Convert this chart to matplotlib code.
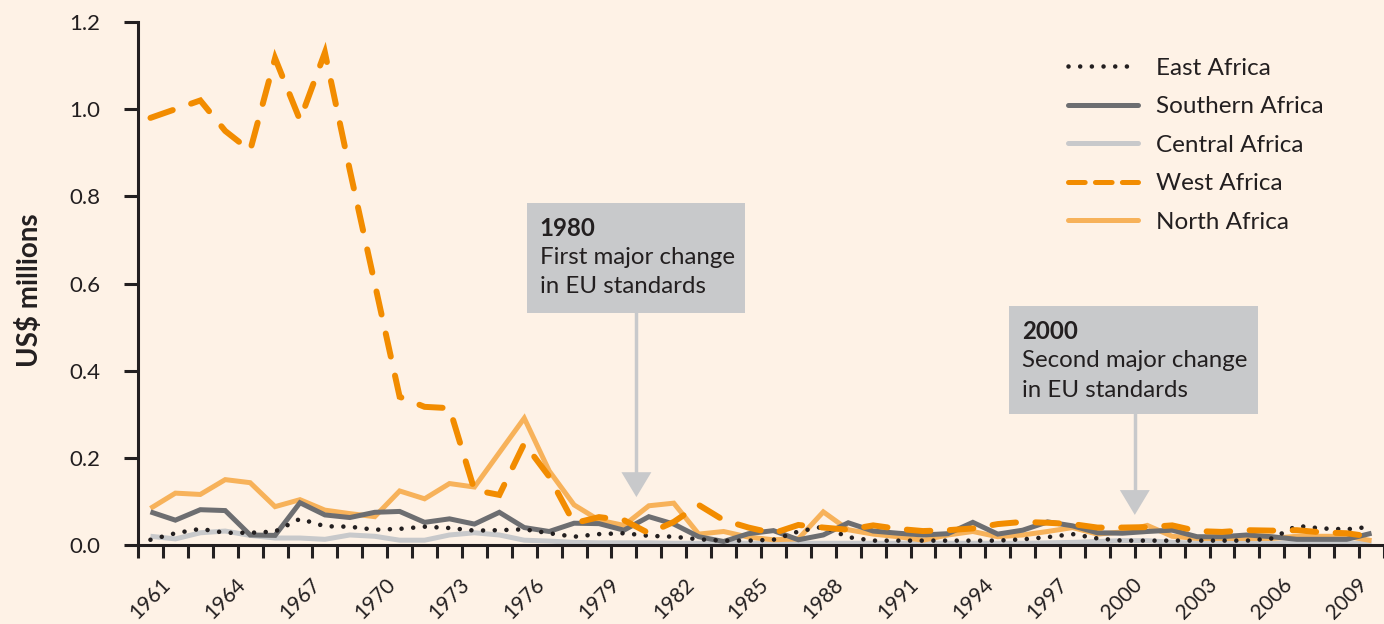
import matplotlib
matplotlib.use('Agg')
import matplotlib.pyplot as plt
from matplotlib.lines import Line2D
from matplotlib.patches import Rectangle, Polygon

plt.rcParams['font.family'] = ['Lato', 'DejaVu Sans']
plt.rcParams['lines.scale_dashes'] = False

# --- data (US$ millions) ---
years = list(range(1961, 2011))
label_years = list(range(1961, 2010, 3))

east = [0.012, 0.027, 0.037, 0.028, 0.028, 0.031, 0.060, 0.043, 0.042, 0.035,
        0.037, 0.042, 0.039, 0.033, 0.034, 0.036, 0.027, 0.019, 0.025, 0.027,
        0.021, 0.019, 0.013, 0.010, 0.010, 0.012, 0.031, 0.042, 0.018, 0.010,
        0.010, 0.010, 0.010, 0.010, 0.010, 0.013, 0.018, 0.025, 0.015, 0.010,
        0.010, 0.010, 0.010, 0.010, 0.010, 0.015, 0.044, 0.038, 0.036, 0.042]

southern = [0.076, 0.057, 0.081, 0.079, 0.023, 0.022, 0.097, 0.069, 0.063, 0.075,
            0.077, 0.052, 0.060, 0.048, 0.075, 0.040, 0.031, 0.050, 0.049, 0.034,
            0.065, 0.048, 0.019, 0.008, 0.026, 0.033, 0.012, 0.023, 0.051, 0.032,
            0.027, 0.023, 0.026, 0.052, 0.025, 0.034, 0.053, 0.044, 0.028, 0.027,
            0.031, 0.034, 0.019, 0.019, 0.023, 0.019, 0.013, 0.013, 0.013, 0.027]

central = [0.020, 0.014, 0.028, 0.032, 0.022, 0.016, 0.016, 0.013, 0.023, 0.020,
           0.011, 0.011, 0.023, 0.028, 0.023, 0.011, 0.009, 0.006, 0.005, 0.005,
           0.005, 0.004, 0.004, 0.004, 0.004, 0.004, 0.004, 0.004, 0.004, 0.004,
           0.004, 0.004, 0.004, 0.004, 0.004, 0.004, 0.005, 0.006, 0.008, 0.010,
           0.010, 0.006, 0.004, 0.004, 0.004, 0.004, 0.004, 0.004, 0.004, 0.004]

west = [0.980, 1.000, 1.020, 0.950, 0.905, 1.117, 0.975, 1.130, 0.860, 0.600,
        0.340, 0.317, 0.314, 0.126, 0.115, 0.233, 0.157, 0.050, 0.064, 0.057,
        0.027, 0.053, 0.092, 0.057, 0.040, 0.027, 0.046, 0.040, 0.035, 0.045,
        0.037, 0.032, 0.034, 0.038, 0.048, 0.053, 0.051, 0.048, 0.040, 0.040,
        0.041, 0.045, 0.032, 0.030, 0.034, 0.033, 0.034, 0.029, 0.027, 0.019]

north = [0.084, 0.119, 0.116, 0.150, 0.143, 0.088, 0.104, 0.080, 0.072, 0.065,
         0.124, 0.106, 0.141, 0.133, 0.212, 0.291, 0.170, 0.092, 0.057, 0.045,
         0.090, 0.096, 0.025, 0.031, 0.018, 0.012, 0.014, 0.076, 0.035, 0.025,
         0.019, 0.011, 0.023, 0.031, 0.019, 0.023, 0.031, 0.040, 0.025, 0.030,
         0.045, 0.020, 0.015, 0.015, 0.015, 0.015, 0.020, 0.020, 0.020, 0.010]

notes = [
    (1980.5, ['1980', 'First major change', 'in EU standards']),
    (2000.5, ['2000', 'Second major change', 'in EU standards']),
]

# --- colours ---
BG = '#FEF2E6'
INK = '#231F20'
C_EAST = INK
C_SOUTH = '#6D6E71'
C_CENTRAL = '#C8C9CB'
C_WEST = '#F28C00'
C_NORTH = '#F7B25A'
BOX = '#C8C9CB'

fig = plt.figure(figsize=(13.84, 6.24), dpi=100, facecolor=BG)
ax = fig.add_axes([138 / 1384, 79 / 624, 1246 / 1384, 523 / 624], facecolor=BG)

solid = dict(solid_joinstyle='miter', solid_capstyle='butt')
ax.plot(years, central, color=C_CENTRAL, lw=3.6, zorder=2, **solid)
ax.plot(years, north, color=C_NORTH, lw=3.6, zorder=3, **solid)
ax.plot(years, southern, color=C_SOUTH, lw=3.6, zorder=4, **solid)
ax.plot(years, east, color=C_EAST, lw=3.3, linestyle=(0, (0.01, 8.4)),
        dash_capstyle='round', zorder=5)
ax.plot(years, west, color=C_WEST, lw=4.3, linestyle=(0, (17, 14)),
        dash_capstyle='round', dash_joinstyle='miter', zorder=6)

# axes
ax.set_xlim(1960.5, 2010.34)
ax.set_ylim(0, 1.2)
for s in ['top', 'right']:
    ax.spines[s].set_visible(False)
for s in ['left', 'bottom']:
    ax.spines[s].set_linewidth(2.2)
    ax.spines[s].set_color(INK)

ax.set_yticks([0, 0.2, 0.4, 0.6, 0.8, 1.0, 1.2])
ax.set_yticklabels(['0.0', '0.2', '0.4', '0.6', '0.8', '1.0', '1.2'])
ax.tick_params(axis='y', length=10, width=2.2, color=INK, pad=17,
               labelsize=16, labelcolor=INK)

ax.set_xticks(label_years)
ax.set_xticklabels([str(y) for y in label_years], rotation=45)
ax.set_xticks([y - 0.5 for y in years] + [years[-1] + 0.5], minor=True)
ax.tick_params(axis='x', which='major', length=0, pad=21,
               labelsize=15, labelcolor=INK)
ax.tick_params(axis='x', which='minor', length=9.5, width=2.2, color=INK)

fig.text(30 / 1384, 1 - 290 / 624, 'US\\$ millions', rotation=90, fontsize=20,
         fontweight='bold', color=INK, ha='center', va='center')

# annotation boxes with arrows
box_geo = [
    # x0, x1, y0, y1, arrow tip
    (1976.1, 1984.86, 0.532, 0.785, 0.110),
    (1995.46, 2005.46, 0.301, 0.548, 0.069),
]
for (ax_x, lines), (x0, x1, y0, y1, tip) in zip(notes, box_geo):
    ax.add_patch(Rectangle((x0, y0), x1 - x0, y1 - y0, facecolor=BOX,
                           edgecolor='none', zorder=7))
    ty = y1 - 0.058
    for i, txt in enumerate(lines):
        ax.text(x0 + 0.52, ty - i * 0.0675, txt, fontsize=17.3, color=INK,
                fontweight='bold' if i == 0 else 'normal',
                ha='left', va='center', zorder=8)
    head = 0.057
    ax.plot([ax_x, ax_x], [y0, tip + head], color=BOX, lw=2.5, zorder=7)
    ax.add_patch(Polygon([(ax_x - 0.6, tip + head), (ax_x + 0.6, tip + head),
                          (ax_x, tip)], closed=True, facecolor=BOX,
                         edgecolor='none', zorder=7))

# legend
handles = [
    Line2D([], [], color=C_EAST, lw=3.3, linestyle=(0, (0.01, 8.4)),
           dash_capstyle='round'),
    Line2D([], [], color=C_SOUTH, lw=3.6, solid_capstyle='round'),
    Line2D([], [], color=C_CENTRAL, lw=3.6, solid_capstyle='round'),
    Line2D([], [], color=C_WEST, lw=3.6, linestyle=(0, (12, 7.4)),
           dash_capstyle='round'),
    Line2D([], [], color=C_NORTH, lw=3.6, solid_capstyle='round'),
]
labels = ['East Africa', 'Southern Africa', 'Central Africa', 'West Africa',
          'North Africa']
leg = fig.legend(handles, labels, loc='upper left',
                 bbox_to_anchor=(1068 / 1384, 1 - 57.5 / 624),
                 frameon=False, fontsize=17.5, handlelength=2.9,
                 handletextpad=0.72, labelspacing=0.72, borderpad=0,
                 borderaxespad=0)
for t in leg.get_texts():
    t.set_color(INK)

fig.savefig('out.png', dpi=100, facecolor=BG)
